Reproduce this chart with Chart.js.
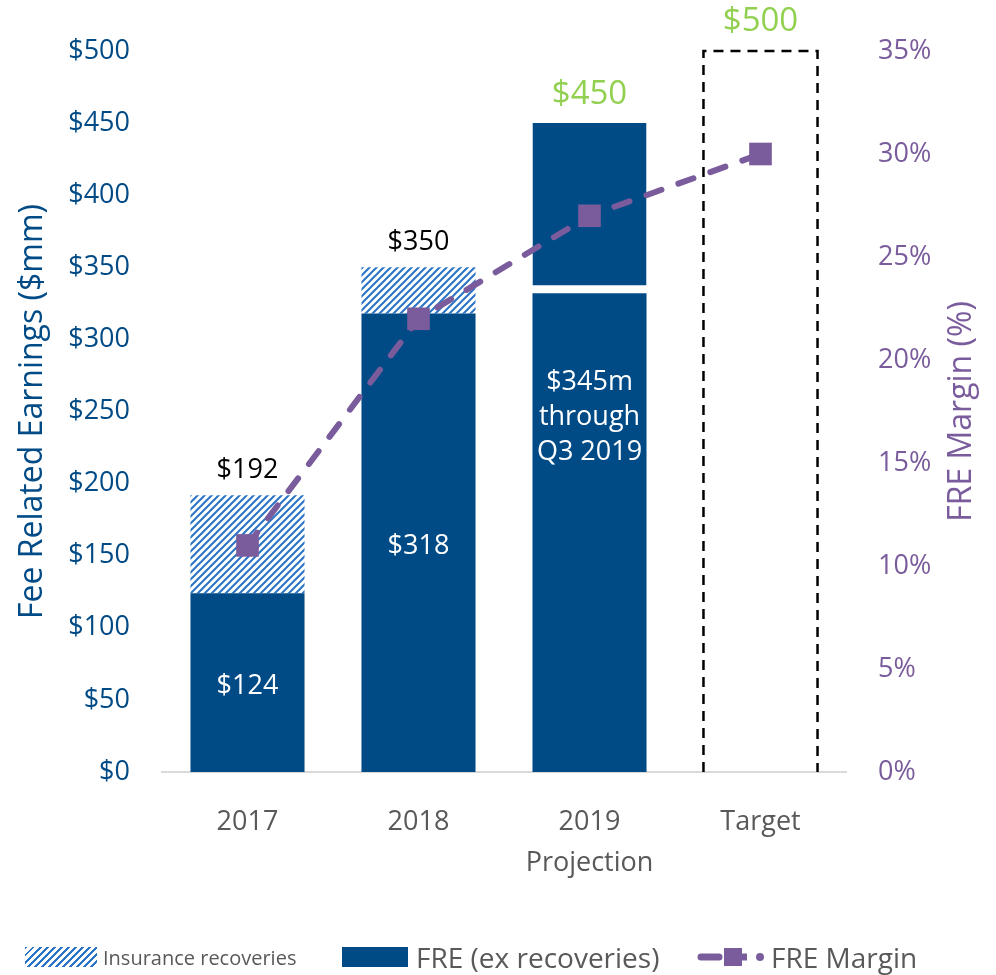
<!DOCTYPE html>
<html>
<head>
<meta charset="utf-8">
<script src="https://cdn.jsdelivr.net/npm/chart.js@4.4.1/dist/chart.umd.min.js"></script>
<style>
  html, body { margin: 0; padding: 0; background: #ffffff; }
  #wrap { position: relative; width: 996px; height: 975px; }
  #legend {
    position: absolute; left: 0; top: 937px; width: 996px; height: 40px;
    font-family: "Open Sans", sans-serif; color: #595959;
  }
  .item { position: absolute; top: 0; height: 40px; display: flex; align-items: center; }
  .swatch { display: inline-block; height: 20px; margin-right: 6px; }
</style>
</head>
<body>
<div id="wrap">
  <canvas id="chart" width="996" height="975"></canvas>
  <div id="legend">
    <div class="item" style="left:25px;">
      <span class="swatch" style="width:72px;background:repeating-linear-gradient(-45deg,#ffffff 0 3px,#2a74c7 3px 5px);"></span>
      <span style="font-size:20px;">Insurance recoveries</span>
    </div>
    <div class="item" style="left:342px;">
      <span class="swatch" style="width:66px;background:#004a86;margin-right:8px;"></span>
      <span style="font-size:28px;">FRE (ex recoveries)</span>
    </div>
    <div class="item" style="left:697px;">
      <svg width="70" height="24" style="margin-right:4px;">
        <line x1="4" y1="12" x2="22" y2="12" stroke="#7a5c9c" stroke-width="7" stroke-linecap="round"/>
        <rect x="27" y="3" width="18" height="18" fill="#7a5c9c"/>
        <line x1="45" y1="12" x2="50" y2="12" stroke="#7a5c9c" stroke-width="7"/>
        <circle cx="63" cy="12" r="4" fill="#7a5c9c"/>
      </svg>
      <span style="font-size:28px;">FRE Margin</span>
    </div>
  </div>
</div>
<script>
const categories = [["2017"], ["2018"], ["2019", "Projection"], ["Target"]];
const freExRecoveries = [124, 318, 332, null];
const freProjectionTop = [null, null, 118, null];
const insuranceRecoveries = [68, 32, null, null];
const targetOutline = [null, null, null, 500];
const freMargin = [11, 22, 27, 30];

const totalLabels = ["$192", "$350", "$450", "$500"];
const insideLabels = [["$124"], ["$318"], ["$345m", "through", "Q3 2019"], []];

const leftTicks = [0, 50, 100, 150, 200, 250, 300, 350, 400, 450, 500];

const FONT = "'Open Sans', sans-serif";
const BLUE = "#004a86";
const PURPLE = "#7a5c9c";
const GREEN = "#92d050";

const canvas = document.getElementById("chart");
const ctx = canvas.getContext("2d");

// hatch pattern for insurance recoveries
function makeHatch() {
    const p = document.createElement("canvas");
    p.width = 7;
    p.height = 7;
    const c = p.getContext("2d");
    c.fillStyle = "#ffffff";
    c.fillRect(0, 0, 7, 7);
    c.strokeStyle = "#2a74c7";
    c.lineWidth = 2;
    c.beginPath();
    c.moveTo(-1, 8); c.lineTo(8, -1);
    c.moveTo(-1, 1); c.lineTo(1, -1);
    c.moveTo(6, 8); c.lineTo(8, 6);
    c.stroke();
    return ctx.createPattern(p, "repeat");
}

// dashed outline for target bar, drawn before the line
const targetPlugin = {
    id: "targetOutline",
    afterDatasetDraw(chart, args) {
        if (args.index !== 3) return;
        const bar = args.meta.data[3];
        const c = chart.ctx;
        const half = bar.width / 2;
        c.save();
        c.strokeStyle = "#000000";
        c.lineWidth = 2.5;
        c.setLineDash([10, 7]);
        c.beginPath();
        c.moveTo(bar.x - half, bar.base);
        c.lineTo(bar.x - half, bar.y);
        c.lineTo(bar.x + half, bar.y);
        c.lineTo(bar.x + half, bar.base);
        c.stroke();
        c.restore();
    }
};

// right axis title reads bottom-to-top like the left one
const rightTitlePlugin = {
    id: "rightTitle",
    afterDraw(chart) {
        const s = chart.scales.y1;
        const c = chart.ctx;
        c.save();
        c.translate(s.right - 34, (s.top + s.bottom) / 2);
        c.rotate(-Math.PI / 2);
        c.textAlign = "center";
        c.textBaseline = "middle";
        c.fillStyle = PURPLE;
        c.font = "32px " + FONT;
        c.fillText("FRE Margin (%)", 0, 0);
        c.restore();
    }
};

// value labels
const labelPlugin = {
    id: "valueLabels",
    afterDatasetsDraw(chart) {
        const c = chart.ctx;
        c.save();
        c.textAlign = "center";
        c.textBaseline = "middle";

        const baseMeta = chart.getDatasetMeta(0);
        const yScale = chart.scales.y;

        totalLabels.forEach((txt, i) => {
            const x = baseMeta.data[i].x;
            let total = 0;
            [0, 1, 2, 3].forEach(d => {
                total += chart.data.datasets[d].data[i] || 0;
            });
            const y = yScale.getPixelForValue(total);
            const green = i >= 2;
            c.fillStyle = green ? GREEN : "#000000";
            c.font = (green ? "33px " : "27px ") + FONT;
            c.fillText(txt, x, y - (green ? 29 : 25));
        });

        c.fillStyle = "#ffffff";
        c.font = "27px " + FONT;
        insideLabels.forEach((lines, i) => {
            if (!lines.length) return;
            const bar = baseMeta.data[i];
            let cy = (bar.y + bar.base) / 2 + 4;
            if (lines.length > 1) cy = bar.y + 124;
            const lh = 35;
            lines.forEach((ln, k) => {
                c.fillText(ln, bar.x, cy + (k - (lines.length - 1) / 2) * lh);
            });
        });
        c.restore();
    }
};

new Chart(ctx, {
    data: {
        labels: categories,
        datasets: [
            {
                type: "bar",
                label: "FRE (ex recoveries)",
                data: freExRecoveries,
                backgroundColor: BLUE,
                borderWidth: 0,
                order: 1
            },
            {
                type: "bar",
                label: "FRE projection",
                data: freProjectionTop,
                backgroundColor: BLUE,
                borderColor: "#ffffff",
                borderWidth: { top: 0, left: 0, right: 0, bottom: 8 },
                borderSkipped: false,
                order: 1
            },
            {
                type: "bar",
                label: "Insurance recoveries",
                data: insuranceRecoveries,
                backgroundColor: makeHatch(),
                borderWidth: 0,
                order: 1
            },
            {
                type: "bar",
                label: "Target",
                data: targetOutline,
                backgroundColor: "rgba(0,0,0,0)",
                borderWidth: 0,
                order: 1
            },
            {
                type: "line",
                label: "FRE Margin",
                data: freMargin,
                yAxisID: "y1",
                borderColor: PURPLE,
                backgroundColor: PURPLE,
                borderWidth: 6,
                borderDash: [16, 18],
                borderCapStyle: "round",
                pointStyle: "rect",
                pointRadius: 16,
                pointHoverRadius: 16,
                pointBorderWidth: 0,
                tension: 0,
                order: 0
            }
        ]
    },
    options: {
        responsive: false,
        animation: false,
        layout: { padding: { top: 51, bottom: 0, left: 0, right: 0 } },
        datasets: {
            bar: { barPercentage: 0.667, categoryPercentage: 1 }
        },
        plugins: {
            legend: { display: false },
            tooltip: { enabled: false }
        },
        scales: {
            x: {
                stacked: true,
                grid: { display: false, drawTicks: false },
                border: { display: true, color: "#d9d9d9", width: 2 },
                ticks: {
                    color: "#595959",
                    padding: 29,
                    font: { family: FONT, size: 27, lineHeight: 1.55 }
                },
                afterFit(scale) { scale.height = 203; }
            },
            y: {
                stacked: true,
                position: "left",
                min: 0,
                max: 500,
                afterBuildTicks(scale) {
                    scale.ticks = leftTicks.map(v => ({ value: v }));
                },
                grid: { display: false, drawTicks: false },
                border: { display: false },
                ticks: {
                    color: BLUE,
                    padding: 32,
                    font: { family: FONT, size: 27 },
                    callback: v => "$" + v
                },
                title: {
                    display: true,
                    text: "Fee Related Earnings ($mm)",
                    color: BLUE,
                    padding: { top: 14, bottom: 0 },
                    font: { family: FONT, size: 32 }
                },
                afterFit(scale) { scale.width = 162; }
            },
            y1: {
                position: "right",
                min: 0,
                max: 35,
                grid: { display: false, drawTicks: false },
                border: { display: false },
                ticks: {
                    stepSize: 5,
                    color: PURPLE,
                    padding: 32,
                    font: { family: FONT, size: 27 },
                    callback: v => v + "%"
                },
                afterFit(scale) { scale.width = 150; }
            }
        }
    },
    plugins: [targetPlugin, rightTitlePlugin, labelPlugin]
});
</script>
</body>
</html>
